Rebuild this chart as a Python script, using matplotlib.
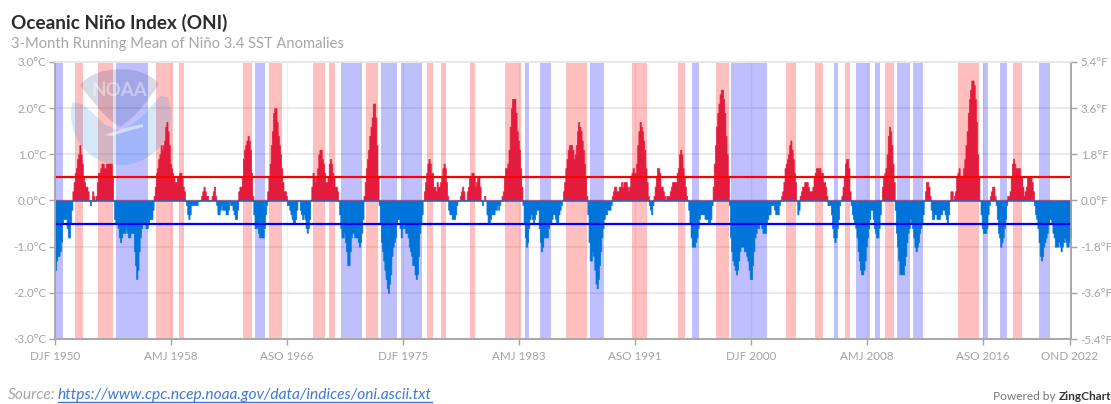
import matplotlib
matplotlib.use('Agg')
import matplotlib.pyplot as plt
import numpy as np
from matplotlib.patches import PathPatch, Polygon
from matplotlib.path import Path
from matplotlib.transforms import Affine2D

W, H = 1111, 404

# ONI value per running season, DJF 1950 ... OND 2022, one row = one year
oni = [
    -1.5, -1.3, -1.2, -1.2, -1.1, -0.9, -0.5, -0.4, -0.4, -0.4, -0.6, -0.8,
    -0.8, -0.5, -0.2, 0.2, 0.4, 0.6, 0.7, 0.9, 1.0, 1.2, 1.0, 0.8,
    0.5, 0.4, 0.3, 0.3, 0.2, 0.0, -0.1, 0.0, 0.2, 0.1, 0.0, 0.1,
    0.4, 0.6, 0.6, 0.7, 0.8, 0.8, 0.7, 0.7, 0.8, 0.8, 0.8, 0.8,
    0.8, 0.5, 0.0, -0.4, -0.5, -0.5, -0.6, -0.8, -0.9, -0.8, -0.7, -0.7,
    -0.7, -0.6, -0.7, -0.8, -0.8, -0.7, -0.7, -0.7, -1.1, -1.4, -1.7, -1.5,
    -1.1, -0.8, -0.6, -0.5, -0.5, -0.5, -0.6, -0.6, -0.5, -0.4, -0.4, -0.4,
    -0.2, 0.1, 0.3, 0.6, 0.7, 0.9, 1.0, 1.2, 1.1, 1.2, 1.3, 1.6,
    1.7, 1.5, 1.2, 0.8, 0.7, 0.6, 0.5, 0.4, 0.4, 0.5, 0.5, 0.6,
    0.6, 0.5, 0.3, 0.2, 0.0, -0.1, -0.3, -0.4, -0.3, -0.1, -0.1, -0.1,
    -0.1, -0.1, -0.1, 0.0, 0.0, 0.0, 0.1, 0.2, 0.3, 0.2, 0.1, 0.1,
    0.0, 0.0, 0.0, 0.1, 0.2, 0.3, 0.1, -0.1, -0.3, -0.3, -0.2, -0.1,
    -0.2, -0.2, -0.2, -0.3, -0.3, -0.2, 0.0, -0.1, -0.1, -0.2, -0.3, -0.4,
    -0.4, -0.2, 0.2, 0.3, 0.3, 0.5, 0.9, 1.1, 1.2, 1.3, 1.4, 1.3,
    1.1, 0.6, 0.1, -0.3, -0.6, -0.6, -0.6, -0.7, -0.8, -0.8, -0.8, -0.8,
    -0.6, -0.3, -0.1, 0.2, 0.5, 0.8, 1.2, 1.5, 1.9, 2.0, 2.0, 1.7,
    1.4, 1.2, 1.0, 0.7, 0.4, 0.2, 0.2, 0.1, -0.1, -0.1, -0.2, -0.3,
    -0.4, -0.5, -0.5, -0.4, -0.2, 0.0, 0.0, -0.2, -0.3, -0.4, -0.3, -0.4,
    -0.6, -0.7, -0.6, -0.4, 0.0, 0.3, 0.6, 0.5, 0.4, 0.5, 0.7, 1.0,
    1.1, 1.1, 0.9, 0.8, 0.6, 0.4, 0.4, 0.5, 0.8, 0.9, 0.8, 0.6,
    0.5, 0.3, 0.3, 0.2, 0.0, -0.3, -0.6, -0.8, -0.8, -0.7, -0.9, -1.1,
    -1.4, -1.4, -1.1, -0.8, -0.7, -0.7, -0.8, -0.8, -0.8, -0.9, -1.0, -0.9,
    -0.7, -0.4, 0.1, 0.4, 0.7, 0.9, 1.1, 1.4, 1.6, 1.8, 2.1, 2.1,
    1.8, 1.2, 0.5, -0.1, -0.5, -0.9, -1.1, -1.3, -1.5, -1.7, -1.9, -2.0,
    -1.8, -1.6, -1.2, -1.0, -0.9, -0.8, -0.5, -0.4, -0.4, -0.6, -0.8, -0.6,
    -0.5, -0.6, -0.7, -0.7, -0.8, -1.0, -1.1, -1.2, -1.4, -1.4, -1.6, -1.7,
    -1.6, -1.2, -0.7, -0.5, -0.3, 0.0, 0.2, 0.4, 0.6, 0.8, 0.9, 0.8,
    0.6, 0.6, 0.3, 0.3, 0.2, 0.4, 0.3, 0.3, 0.4, 0.5, 0.7, 0.8,
    0.7, 0.4, 0.1, -0.2, -0.3, -0.3, -0.4, -0.4, -0.4, -0.3, -0.1, 0.0,
    0.0, 0.1, 0.2, 0.3, 0.2, 0.0, 0.0, 0.2, 0.3, 0.5, 0.5, 0.6,
    0.6, 0.5, 0.3, 0.4, 0.5, 0.5, 0.3, 0.0, -0.1, 0.0, 0.1, 0.0,
    -0.3, -0.5, -0.5, -0.4, -0.3, -0.3, -0.3, -0.2, -0.2, -0.1, -0.2, -0.1,
    0.0, 0.1, 0.2, 0.5, 0.7, 0.7, 0.8, 1.1, 1.6, 2.0, 2.2, 2.2,
    2.2, 1.9, 1.5, 1.3, 1.1, 0.7, 0.3, -0.1, -0.5, -0.8, -1.0, -0.9,
    -0.6, -0.4, -0.3, -0.4, -0.5, -0.4, -0.3, -0.2, -0.2, -0.6, -0.9, -1.1,
    -1.0, -0.8, -0.8, -0.8, -0.8, -0.6, -0.5, -0.5, -0.4, -0.3, -0.3, -0.4,
    -0.5, -0.5, -0.3, -0.2, -0.1, 0.0, 0.2, 0.4, 0.7, 0.9, 1.1, 1.2,
    1.2, 1.2, 1.1, 0.9, 1.0, 1.2, 1.5, 1.7, 1.6, 1.5, 1.3, 1.1,
    0.8, 0.5, 0.1, -0.3, -0.9, -1.3, -1.3, -1.1, -1.2, -1.5, -1.8, -1.9,
    -1.7, -1.4, -1.1, -0.8, -0.6, -0.4, -0.3, -0.3, -0.2, -0.2, -0.2, -0.1,
    0.1, 0.2, 0.3, 0.3, 0.2, 0.2, 0.3, 0.3, 0.4, 0.3, 0.4, 0.4,
    0.4, 0.3, 0.2, 0.3, 0.5, 0.6, 0.7, 0.6, 0.6, 0.8, 1.2, 1.5,
    1.7, 1.6, 1.5, 1.3, 1.1, 0.7, 0.4, 0.1, -0.1, -0.2, -0.3, -0.1,
    0.1, 0.3, 0.5, 0.7, 0.7, 0.6, 0.3, 0.3, 0.2, 0.1, 0.0, 0.1,
    0.1, 0.1, 0.2, 0.3, 0.4, 0.4, 0.4, 0.4, 0.6, 0.7, 1.0, 1.1,
    1.0, 0.7, 0.5, 0.3, 0.1, 0.0, -0.2, -0.5, -0.8, -1.0, -1.0, -1.0,
    -0.9, -0.8, -0.6, -0.4, -0.3, -0.3, -0.3, -0.3, -0.4, -0.4, -0.4, -0.5,
    -0.5, -0.4, -0.1, 0.3, 0.8, 1.2, 1.6, 1.9, 2.1, 2.3, 2.4, 2.4,
    2.2, 1.9, 1.4, 1.0, 0.5, -0.1, -0.8, -1.1, -1.3, -1.4, -1.5, -1.6,
    -1.5, -1.3, -1.1, -1.0, -1.0, -1.0, -1.1, -1.1, -1.2, -1.3, -1.5, -1.7,
    -1.7, -1.4, -1.1, -0.8, -0.7, -0.6, -0.6, -0.5, -0.5, -0.6, -0.7, -0.7,
    -0.7, -0.5, -0.4, -0.3, -0.3, -0.1, -0.1, -0.1, -0.2, -0.3, -0.3, -0.3,
    -0.1, 0.0, 0.1, 0.2, 0.4, 0.7, 0.8, 0.9, 1.0, 1.2, 1.3, 1.1,
    0.9, 0.6, 0.4, 0.0, -0.3, -0.2, 0.1, 0.2, 0.3, 0.3, 0.4, 0.4,
    0.4, 0.3, 0.2, 0.2, 0.2, 0.3, 0.5, 0.6, 0.7, 0.7, 0.7, 0.7,
    0.6, 0.6, 0.4, 0.4, 0.3, 0.1, -0.1, -0.1, -0.1, -0.3, -0.6, -0.8,
    -0.9, -0.8, -0.6, -0.4, -0.1, 0.0, 0.1, 0.3, 0.5, 0.8, 0.9, 0.9,
    0.7, 0.2, -0.1, -0.3, -0.4, -0.5, -0.6, -0.8, -1.1, -1.3, -1.5, -1.6,
    -1.6, -1.5, -1.3, -1.0, -0.8, -0.6, -0.4, -0.2, -0.2, -0.4, -0.6, -0.7,
    -0.8, -0.8, -0.6, -0.3, 0.0, 0.3, 0.5, 0.6, 0.7, 1.0, 1.4, 1.6,
    1.5, 1.2, 0.8, 0.4, -0.2, -0.7, -1.0, -1.3, -1.6, -1.6, -1.6, -1.6,
    -1.4, -1.2, -0.9, -0.7, -0.6, -0.4, -0.5, -0.6, -0.8, -1.0, -1.1, -1.0,
    -0.9, -0.7, -0.6, -0.5, -0.3, 0.0, 0.2, 0.4, 0.4, 0.3, 0.1, -0.2,
    -0.4, -0.4, -0.3, -0.3, -0.4, -0.4, -0.4, -0.3, -0.3, -0.2, -0.2, -0.3,
    -0.4, -0.5, -0.3, 0.0, 0.2, 0.2, 0.0, 0.1, 0.2, 0.5, 0.6, 0.7,
    0.5, 0.5, 0.5, 0.7, 0.9, 1.2, 1.5, 1.9, 2.2, 2.4, 2.6, 2.6,
    2.5, 2.2, 1.7, 1.0, 0.5, 0.0, -0.3, -0.6, -0.7, -0.7, -0.7, -0.6,
    -0.3, -0.1, 0.1, 0.2, 0.3, 0.3, 0.1, -0.1, -0.4, -0.7, -0.8, -1.0,
    -0.9, -0.8, -0.6, -0.4, -0.1, 0.1, 0.1, 0.2, 0.5, 0.8, 0.9, 0.8,
    0.7, 0.7, 0.7, 0.7, 0.5, 0.5, 0.3, 0.1, 0.2, 0.3, 0.5, 0.5,
    0.5, 0.5, 0.4, 0.2, -0.1, -0.3, -0.4, -0.6, -0.9, -1.2, -1.3, -1.2,
    -1.0, -0.9, -0.8, -0.7, -0.5, -0.4, -0.4, -0.5, -0.7, -0.8, -1.0, -1.0,
    -1.0, -0.9, -1.0, -1.1, -1.0, -0.9, -0.8, -0.9, -1.0, -1.0, -0.9, -0.8,
]

# episodes as (first season, last season) counted from DJF 1950
el_nino = [(17, 24), (37, 50), (87.5, 102), (107, 111), (162, 170), (184.5, 196),
           (222.5, 233), (236, 241), (268.5, 278.5), (320.5, 325.5), (333, 337),
           (358, 362), (388, 402), (441, 458.5), (497.5, 510), (537, 543),
           (569.5, 581), (630, 638.5), (655, 662.5), (681.5, 685.5), (716, 723.5),
           (778.5, 796.5), (826, 834)]
la_nina = [(0, 6.5), (52.5, 80.5), (172.5, 181), (247, 265), (281, 294.5), (298, 316),
           (405, 409), (418, 428), (461, 473), (549, 555.5), (583, 614), (671.5, 675),
           (690.5, 702.5), (707, 711.5), (726, 737), (739.5, 748.5), (800.5, 804.5),
           (814.5, 820.5), (848.5, 858)]

tick_pos = [0, 100, 200, 300, 400, 500, 600, 700, 800, 875]
tick_labels = ['DJF 1950', 'AMJ 1958', 'ASO 1966', 'DJF 1975', 'AMJ 1983',
               'ASO 1991', 'DJF 2000', 'AMJ 2008', 'ASO 2016', 'OND 2022']
c_ticks = [-3, -2, -1, 0, 1, 2, 3]
f_ticks = [-5.4, -3.6, -1.8, 0.0, 1.8, 3.6, 5.4]

plt.rcParams['font.family'] = ['Lato', 'DejaVu Sans']
GREY = '#a3a3a3'
GRID = '#e8e8e8'

fig = plt.figure(figsize=(W / 100, H / 100), dpi=100)
ax = fig.add_axes([55 / W, 1 - 339 / H, (1071 - 55) / W, (339 - 62) / H])
values = np.array(oni)
edges = np.arange(len(oni) + 1)

# grid sits under the see-through bands
ax.grid(True, axis='y', color=GRID, linewidth=1.2, zorder=0)
ax.grid(True, axis='x', color='#f0f0f0', linewidth=1, zorder=0)
ax.set_axisbelow(True)
for start, end in el_nino:
    ax.axvspan(start, end, color='#ff0000', alpha=0.25, linewidth=0, zorder=1)
for start, end in la_nina:
    ax.axvspan(start, end, color='#0000ff', alpha=0.25, linewidth=0, zorder=1)

# NOAA logo, pixel coords of the picture
px = Affine2D().scale(1 / W, -1 / H).translate(0, 1) + fig.transFigure
dome = Path([(80, 85), (97, 64), (143, 64), (159, 84), (148, 100), (138, 115), (120, 127), (104, 118), (92, 100), (80, 85)],
            [Path.MOVETO, Path.CURVE4, Path.CURVE4, Path.CURVE4, Path.CURVE4, Path.CURVE4, Path.CURVE4, Path.CURVE4, Path.CURVE4, Path.CURVE4])
ax.add_patch(PathPatch(dome, transform=px, facecolor='#1f3f7a', alpha=0.18, linewidth=0, zorder=2, clip_on=False))
theta = np.radians(np.arange(195, -22, -4))
arc = [(121 + 50 * np.cos(t), 115 + 50 * np.sin(t)) for t in theta]
low = arc + [(160, 96), (150, 108), (136, 122), (120, 131), (104, 124), (92, 112), (82, 104)]
ax.add_patch(Polygon(low, closed=True, transform=px, facecolor='#2f8fe0', alpha=0.2, linewidth=0, zorder=2, clip_on=False))
wing = Path([(105, 135), (125, 128), (143, 124), (143, 127), (128, 131), (112, 136), (105, 135)])
ax.add_patch(PathPatch(wing, transform=px, facecolor='white', alpha=0.5, linewidth=0, zorder=2, clip_on=False))
fig.text(119 / W, 1 - 91 / H, 'NOAA', color='white', alpha=0.4, fontsize=13.5, fontweight='bold',
         ha='center', va='center', zorder=3)

# stepped fill, each season one step wide
ax.fill_between(edges, np.append(np.clip(values, 0, None), 0), 0, step='post', color='#e31c3d', linewidth=0.5, zorder=3)
ax.fill_between(edges, np.append(np.clip(values, None, 0), 0), 0, step='post', color='#0074d9', linewidth=0.5, zorder=3)
ax.axhline(0.5, color='#ff0000', linewidth=1.6, zorder=4)
ax.axhline(-0.5, color='#0000ff', linewidth=1.6, zorder=4)

ax.set_xlim(0, 876)
ax.set_ylim(-3, 3)
ax.set_xticks(tick_pos)
ax.set_xticklabels(tick_labels)
ax.set_yticks(c_ticks)
ax.set_yticklabels(['%.1f°C' % c for c in c_ticks])
ax.tick_params(axis='both', colors=GREY, labelsize=8.4, length=4, width=1, pad=2)
ax.tick_params(axis='x', pad=5)

axr = ax.twinx()
axr.set_ylim(-5.4, 5.4)
axr.set_yticks(f_ticks)
axr.set_yticklabels(['%.1f°F' % f for f in f_ticks])
axr.tick_params(axis='y', colors=GREY, labelsize=8.4, length=4, width=1, pad=3)

for a in (ax, axr):
    for side in ('left', 'right', 'bottom'):
        a.spines[side].set_color('#a8a8a8')
        a.spines[side].set_linewidth(1.2)
    a.spines['top'].set_color(GRID)
    a.spines['top'].set_linewidth(1.2)

fig.text(11 / W, 1 - 23 / H, 'Oceanic Niño Index (ONI)', color='#2b2b2b', fontsize=13.6, fontweight='bold', va='center')
fig.text(11 / W, 1 - 44 / H, '3-Month Running Mean of Niño 3.4 SST Anomalies', color='#a6a6a6', fontsize=10.65, va='center')

src = fig.text(8 / W, 1 - 395 / H, 'Source:', color='#a6a6a6', fontsize=11.2, style='italic', va='center')
link = fig.text(58 / W, 1 - 395 / H, 'https://www.cpc.ncep.noaa.gov/data/indices/oni.ascii.txt',
                color='#3d78d8', fontsize=11.2, style='italic', va='center')
fig.canvas.draw()
lb = link.get_window_extent()
fig.add_artist(plt.Line2D([lb.x0 / W, lb.x1 / W], [1 - 402 / H, 1 - 402 / H], color='#3d78d8', linewidth=1))

pw = fig.text(993 / W, 1 - 397 / H, 'Powered by ', color='#777777', fontsize=8.6, va='center')
fig.canvas.draw()
box = pw.get_window_extent()
fig.text(box.x1 / W, 1 - 397 / H, 'ZingChart', color='#333333', fontsize=8.6, fontweight='bold', va='center')

fig.savefig('out.png', dpi=100)
